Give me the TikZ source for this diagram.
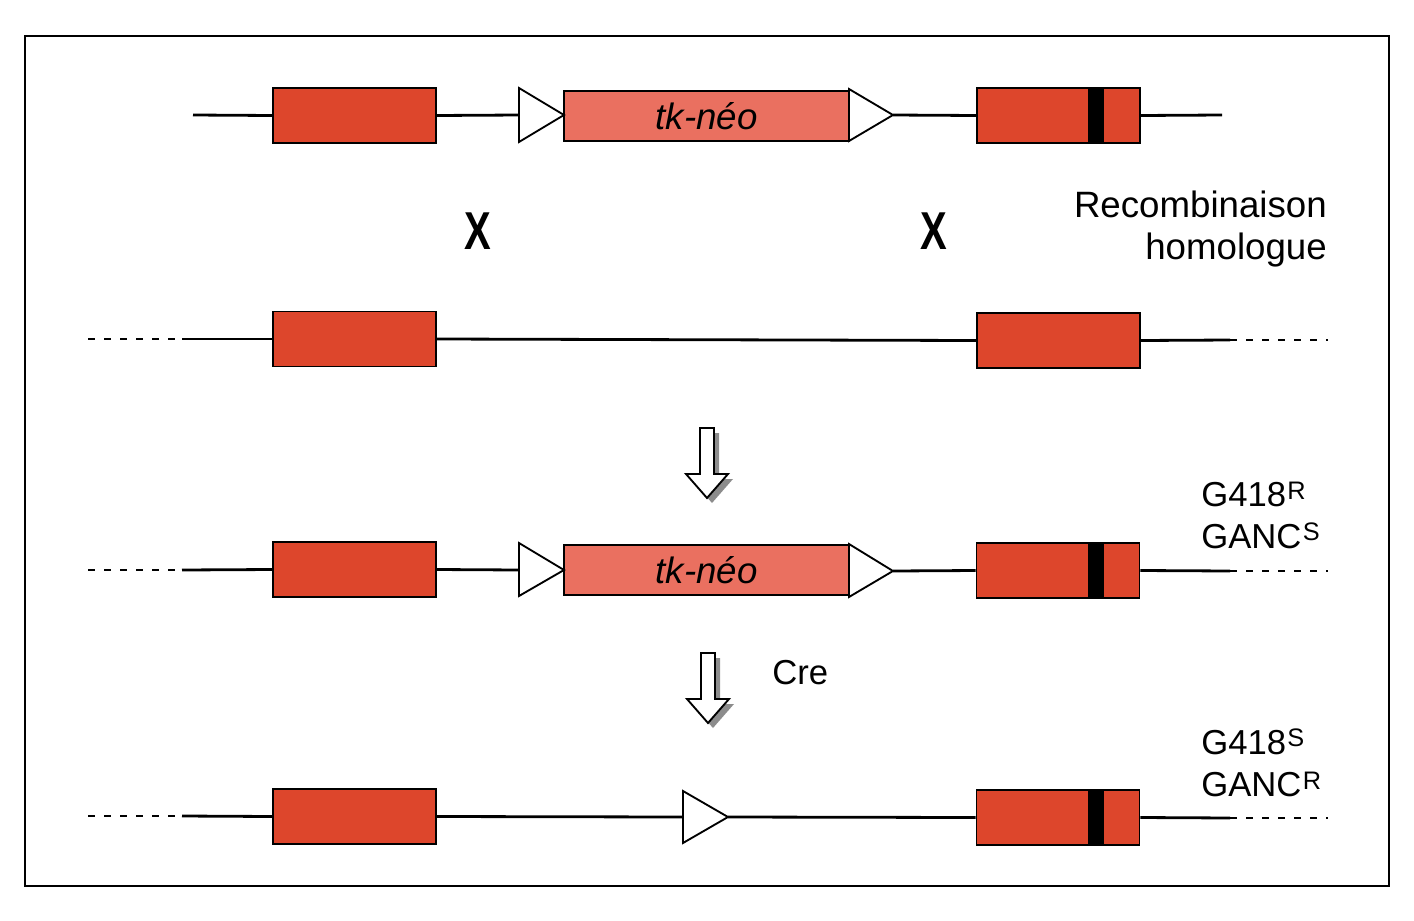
\documentclass[tikz,border=0pt]{standalone}
\usepackage{fontspec}
\setmainfont{Liberation Sans}
\usetikzlibrary{calc}
\definecolor{exonred}{RGB}{221,70,44}
\definecolor{neored}{RGB}{234,112,96}
\definecolor{shadowgray}{RGB}{140,140,140}
\newcommand\supmark[1]{{\fontsize{19}{19}\selectfont\kern1pt\raisebox{5.5pt}{#1}}}
\begin{document}
\begin{tikzpicture}[x=0.75pt,y=-0.75pt,
  dna/.style={line width=2.1pt},
  dnadash/.style={line width=2.1pt, dash pattern=on 5pt off 7pt},
  exon/.style={draw, line width=1.4pt, fill=exonred, minimum width=122.25pt, minimum height=41.25pt, inner sep=0pt},
  band/.style={fill=black, minimum width=12pt, minimum height=40pt, inner sep=0pt},
  neo/.style={draw, line width=1.4pt, fill=neored, minimum width=213.75pt, minimum height=37.5pt, inner sep=0pt, font=\fontsize{27.5}{30}\selectfont\itshape},
  loxp/.style={draw, line width=1.4pt, fill=white, line join=miter},
  cross/.style={font=\fontsize{40}{40}\selectfont\bfseries, xscale=0.75, inner sep=0pt},
  bigtxt/.style={font=\fontsize{27.5}{30}\selectfont, inner sep=0pt},
  lbl/.style={font=\fontsize{26}{28}\selectfont, inner sep=0pt},
  hollowdown/.pic={
    \fill[shadowgray, shift={(5,5)}] (-7,-70) -- (7,-70) -- (7,-24) -- (21,-24) -- (0,0) -- (-21,-24) -- (-7,-24) -- cycle;
    \draw[line width=1.4pt, fill=white, line join=miter] (-7,-70) -- (7,-70) -- (7,-24) -- (21,-24) -- (0,0) -- (-21,-24) -- (-7,-24) -- cycle;
  }
]
\useasboundingbox (0,0) rectangle (1414,921);
\draw[line width=1.5pt] (25,36) rectangle (1389,886);

% ---------- Row 1: targeting vector ----------
\node[exon] (ex1L) at (354.5,115.5) {};
\node[neo] (neo1) at (706.5,116) {tk-néo};
\node[exon] (ex1R) at (1058.5,115.5) {};
\node[band] (b1) at ($(ex1R.center)+(37.5,0)$) {};
\coordinate (r1a) at (193,115);
\coordinate (r1b) at (1222,115);
\coordinate (L1a) at (519,115);
\coordinate (L1b) at (564,115);
\coordinate (L2a) at (849,115);
\coordinate (L2b) at (893,115);
\draw[dna] (r1a) -- (ex1L.west);
\draw[dna] (ex1L.east) -- (L1a);
\draw[dna] (L2b) -- (ex1R.west);
\draw[dna] (ex1R.east) -- (r1b);
\draw[loxp] (519,88) -- (L1b) -- (519,142) -- cycle;
\draw[loxp] (849,89) -- (L2b) -- (849,141) -- cycle;

% ---------- crossovers ----------
\node[cross] (x1) at (478,231) {X};
\node[cross] (x2) at (934,231) {X};
\node[bigtxt, anchor=base east] (rec1) at (1327,217) {Recombinaison};
\node[bigtxt, anchor=base east] (rec2) at (1327,259) {homologue};

% ---------- Row 2: genomic locus ----------
\node[exon] (ex2L) at (354.5,339) {};
\node[exon] (ex2R) at (1058.5,340.5) {};
\coordinate (d2a) at (88,339);
\coordinate (d2b) at (182,339);
\coordinate (d2c) at (1230,340);
\coordinate (d2d) at (1328,340);
\draw[dnadash] (d2a) -- (d2b);
\draw[dna] (d2b) -- (ex2L.west);
\draw[dna] (ex2L.east) -- (ex2R.west);
\draw[dna] (ex2R.east) -- (d2c);
\draw[dnadash] (d2c) -- (d2d);

\pic at (707,498) {hollowdown};

% ---------- Row 3: recombined allele ----------
\node[exon] (ex3L) at (354.5,569.5) {};
\node[neo] (neo3) at (706.5,570) {tk-néo};
\node[exon] (ex3R) at (1058,570.5) {};
\node[band] (b3) at ($(ex3R.center)+(37.5,0)$) {};
\coordinate (d3a) at (88,570);
\coordinate (d3b) at (182,570);
\coordinate (d3c) at (1230,571);
\coordinate (d3d) at (1328,571);
\coordinate (L3a) at (519,570);
\coordinate (L3b) at (564,570);
\coordinate (L4a) at (849,570);
\coordinate (L4b) at (893,571);
\draw[dnadash] (d3a) -- (d3b);
\draw[dna] (d3b) -- (ex3L.west);
\draw[dna] (ex3L.east) -- (L3a);
\draw[dna] (L4b) -- (ex3R.west);
\draw[dna] (ex3R.east) -- (d3c);
\draw[dnadash] (d3c) -- (d3d);
\draw[loxp] (519,543) -- (L3b) -- (519,596) -- cycle;
\draw[loxp] (849,544) -- (L4b) -- (849,597) -- cycle;
\node[lbl, anchor=base west] (g3a) at (1201,506.5) {G418\supmark{R}};
\node[lbl, anchor=base west] (g3b) at (1201,548) {GANC\supmark{S}};

\pic at (708,723) {hollowdown};
\node[font=\fontsize{26}{28}\selectfont, inner sep=0pt, anchor=base west] (cre) at (772,684) {Cre};

% ---------- Row 4: excised allele ----------
\node[exon] (ex4L) at (354.5,816.5) {};
\node[exon] (ex4R) at (1058,817.5) {};
\node[band] (b4) at ($(ex4R.center)+(37.5,0)$) {};
\coordinate (d4a) at (88,816);
\coordinate (d4b) at (182,816);
\coordinate (d4c) at (1230,818);
\coordinate (d4d) at (1328,818);
\coordinate (L5a) at (683,817);
\coordinate (L5b) at (728,817);
\draw[dnadash] (d4a) -- (d4b);
\draw[dna] (d4b) -- (ex4L.west);
\draw[dna] (ex4L.east) -- (L5a);
\draw[dna] (L5b) -- (ex4R.west);
\draw[dna] (ex4R.east) -- (d4c);
\draw[dnadash] (d4c) -- (d4d);
\draw[loxp] (683,791) -- (L5b) -- (683,843) -- cycle;
\node[lbl, anchor=base west] (g4a) at (1201,754) {G418\supmark{S}};
\node[lbl, anchor=base west] (g4b) at (1201,796.5) {GANC\supmark{R}};
\end{tikzpicture}
\end{document}
